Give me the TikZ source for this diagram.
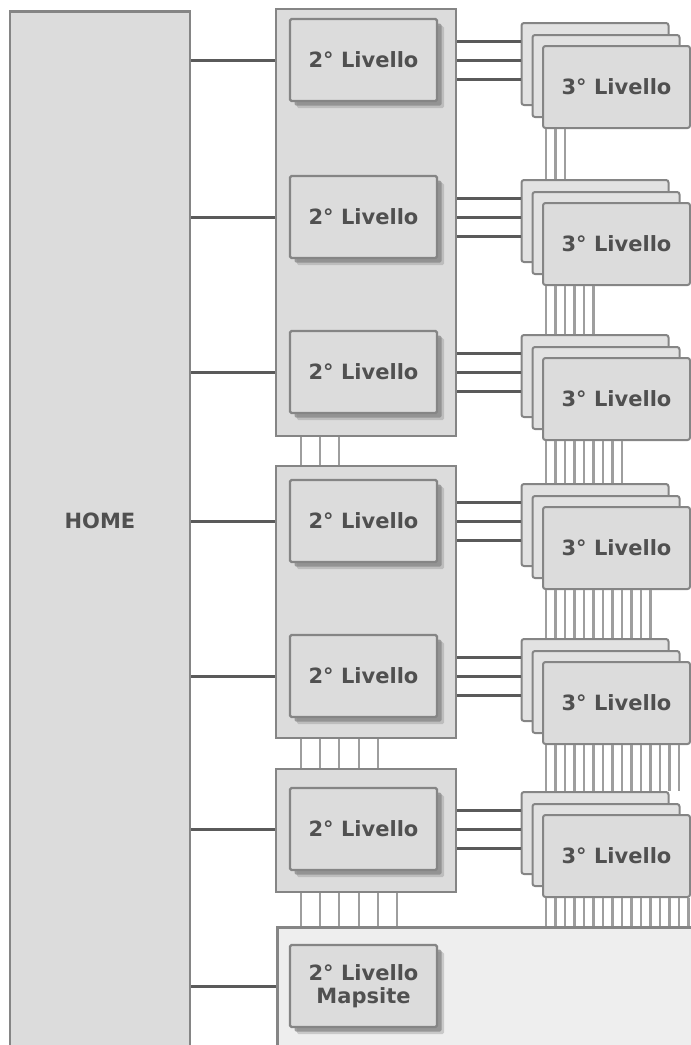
\documentclass[tikz,border=0pt]{standalone}
\usepackage{fontspec}
\setmainfont{DejaVu Sans}
\usetikzlibrary{calc}
\definecolor{boxfill}{HTML}{DCDCDC}
\definecolor{backfill}{HTML}{E2E2E2}
\definecolor{edge}{HTML}{858585}
\definecolor{conn}{HTML}{5A5A5A}
\definecolor{busc}{HTML}{9E9E9E}
\definecolor{txt}{HTML}{505050}
\definecolor{mapfill}{HTML}{EEEEEE}
\definecolor{shadowc}{HTML}{858585}
\begin{document}
\begin{tikzpicture}[x=1pt,y=-1pt,
  lbl/.style={font=\fontsize{21}{23}\selectfont\bfseries, text=txt},
  frame/.style={draw=edge, line width=2.6pt, fill=boxfill, inner sep=0pt},
  twobox/.style={draw=edge, line width=2.2pt, fill=boxfill, minimum width=147pt, minimum height=82pt,
    inner sep=0pt, lbl, align=center, rounded corners=1.5pt,
    preaction={fill=shadowc, opacity=0.35, transform canvas={shift={(7pt,-7pt)}}},
    preaction={fill=shadowc, opacity=0.75, transform canvas={shift={(4.5pt,-4.5pt)}}}},
  threebox/.style={draw=edge, line width=2pt, fill=boxfill, minimum width=147pt, minimum height=82pt,
    inner sep=0pt, rounded corners=2.5pt, lbl},
  link/.style={draw=conn, line width=3pt},
  bus/.style={draw=busc, line width=2.2pt}]
\useasboundingbox (0,0) rectangle (691,1045);
\begin{scope}
\clip (0,0) rectangle (691,1045);
% HOME
\node[frame, minimum width=180pt, minimum height=1100pt, anchor=north] (home) at (100,10) {};
\node[lbl] (hometext) at (100,521) {HOME};
% containers
\node[frame, minimum width=180pt, minimum height=427pt] (g1) at (366,222.5) {};
\node[frame, minimum width=180pt, minimum height=272pt] (g2) at (366,602) {};
\node[frame, minimum width=180pt, minimum height=123pt] (g3) at (366,830.5) {};
\node[frame, fill=mapfill, minimum width=450pt, minimum height=200pt, anchor=north west] (mapc) at (276,926) {};
% buses between containers
\foreach \j in {1,...,3} {\draw[bus] ($(g1.south west)+(26+19.3*\j-19.3,0)$) coordinate (mt) -- (mt |- g2.north);}
\foreach \j in {1,...,5} {\draw[bus] ($(g2.south west)+(26+19.3*\j-19.3,0)$) coordinate (mt) -- (mt |- g3.north);}
\foreach \j in {1,...,6} {\draw[bus] ($(g3.south west)+(26+19.3*\j-19.3,0)$) coordinate (mt) -- (mt |- mapc.north);}
% second and third level
\foreach \c/\g [count=\i] in {60/g1,217/g1,372/g1,521/g2,676/g2,829/g3} {
  \node[twobox] (b\i) at (363.5,\c) {2° Livello};
  \node[threebox, fill=backfill] (sa\i) at (595,\c+4) {};
  \node[threebox, fill=backfill] (sb\i) at (606,\c+16) {};
  \node[threebox] (sc\i) at (616.5,\c+27) {3° Livello};
  \draw[link] (home.east |- b\i) -- (\g.west |- b\i);
  \foreach \d in {-19,0,19} {
    \draw[link] ($(\g.east |- b\i)+(0,\d)$) coordinate (lt) -- (lt -| sa\i.west);
  }
}
% buses between third level stacks
\foreach \i in {1,...,5} {
  \pgfmathtruncatemacro\n{3*\i}
  \pgfmathtruncatemacro\nx{\i+1}
  \foreach \j in {1,...,\n} {
    \draw[bus] ($(sc\i.south west)+(4+9.5*\j-9.5,0)$) coordinate (bt) -- (bt |- sa\nx.north);
  }
}
\foreach \j in {1,...,18} {
  \draw[bus] ($(sc6.south west)+(4+9.5*\j-9.5,0)$) coordinate (bt) -- (bt |- mapc.north);
}
% mapsite
\node[twobox] (b7) at (363.5,986) {2° Livello\\Mapsite};
\draw[link] (home.east |- b7) -- (mapc.west |- b7);
\end{scope}
\end{tikzpicture}
\end{document}
